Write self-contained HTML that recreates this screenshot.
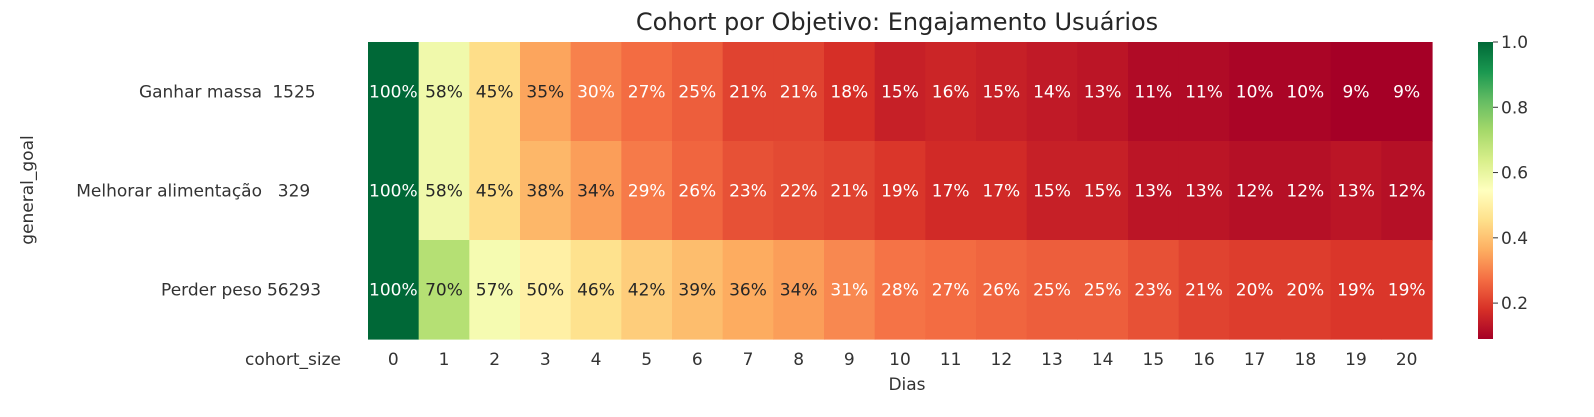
<!DOCTYPE html>
<html><head><meta charset="utf-8"><style>
body{margin:0;background:#fff;}
svg text{font-family:"DejaVu Sans","Liberation Sans",sans-serif;}
</style></head><body>
<svg id="chart" width="1594" height="412">
<text x="897" y="30" font-size="24" fill="#262626" text-anchor="middle">Cohort por Objetivo: Engajamento Usuários</text>
<text x="0" y="0" font-size="17" fill="#333" text-anchor="middle" transform="translate(33,190) rotate(-90)">general_goal</text>
<text x="907" y="390" font-size="17" fill="#333" text-anchor="middle">Dias</text>
<text x="293" y="365" font-size="17" fill="#333" text-anchor="middle">cohort_size</text>
<g id="cells"></g><g id="labels"></g><g id="cbar"></g>
</svg>
<script>
const goals = ["Ganhar massa","Melhorar alimentação","Perder peso"];
const cohortSizes = [1525, 329, 56293];
const days = [0,1,2,3,4,5,6,7,8,9,10,11,12,13,14,15,16,17,18,19,20];
const rowGanhar = [100,58,45,35,30,27,25,21,21,18,15,16,15,14,13,11,11,10,10,9,9];
const rowMelhorar = [100,58,45,38,34,29,26,23,22,21,19,17,17,15,15,13,13,12,12,13,12];
const rowPerder = [100,70,57,50,46,42,39,36,34,31,28,27,26,25,25,23,21,20,20,19,19];
const cbarTicks = [0.2,0.4,0.6,0.8,1.0];

const rows=[rowGanhar,rowMelhorar,rowPerder];
const X0=368,X1=1432,Y0=42,Y1=339;
const cw=(X1-X0)/days.length, rh=(Y1-Y0)/goals.length;
const vmin=Math.min(...rows.flat())/100, vmax=1.0;
const stops=["#a50026","#d73027","#f46d43","#fdae61","#fee08b","#ffffbf","#d9ef8b","#a6d96a","#66bd63","#1a9850","#006837"].map(h=>[parseInt(h.slice(1,3),16),parseInt(h.slice(3,5),16),parseInt(h.slice(5,7),16)]);
function cmap(t){t=Math.max(0,Math.min(1,t));const p=t*10,i=Math.min(9,Math.floor(p)),f=p-i;const a=stops[i],b=stops[i+1];return [0,1,2].map(k=>Math.round(a[k]+(b[k]-a[k])*f));}
function lum(c){const l=c.map(v=>{v/=255;return v<=0.03928?v/12.92:Math.pow((v+0.055)/1.055,2.4)});return 0.2126*l[0]+0.7152*l[1]+0.0722*l[2];}
const ns="http://www.w3.org/2000/svg";
function xS(i){return X0+i*cw;} function yS(j){return Y0+j*rh;}
const cells=document.getElementById('cells'),labels=document.getElementById('labels'),cbar=document.getElementById('cbar');
rows.forEach((row,j)=>{row.forEach((v,i)=>{
 const c=cmap((v/100-vmin)/(vmax-vmin));
 const r=document.createElementNS(ns,'rect');
 r.setAttribute('x',xS(i));r.setAttribute('y',yS(j));r.setAttribute('width',cw+0.6);r.setAttribute('height',rh+0.6);
 r.setAttribute('fill',`rgb(${c})`);
 
 
 cells.appendChild(r);
 const t=document.createElementNS(ns,'text');
 t.setAttribute('x',xS(i)+cw/2);t.setAttribute('y',yS(j)+rh/2+6);t.setAttribute('font-size','17');t.setAttribute('text-anchor','middle');
 t.setAttribute('fill',lum(c)>0.408?'#262626':'#ffffff');t.textContent=v+'%';
 
 
 labels.appendChild(t);
});
 const g=document.createElementNS(ns,'text');
 g.setAttribute('x',262);g.setAttribute('y',yS(j)+rh/2+6);g.setAttribute('font-size','17');g.setAttribute('fill','#333');g.setAttribute('text-anchor','end');g.textContent=goals[j];
 
 
 labels.appendChild(g);
 const s=document.createElementNS(ns,'text');
 s.setAttribute('x',294);s.setAttribute('y',yS(j)+rh/2+6);s.setAttribute('font-size','17');s.setAttribute('fill','#333');s.setAttribute('text-anchor','middle');s.textContent=cohortSizes[j];
 
 
 labels.appendChild(s);
});
days.forEach((d,i)=>{const t=document.createElementNS(ns,'text');
 t.setAttribute('x',xS(i)+cw/2);t.setAttribute('y',365);t.setAttribute('font-size','17');t.setAttribute('fill','#333');t.setAttribute('text-anchor','middle');t.textContent=d;
 
 
 labels.appendChild(t);});
const CX=1478,CW=15;
const defs=document.createElementNS(ns,'defs');const lg=document.createElementNS(ns,'linearGradient');
lg.setAttribute('id','cg');lg.setAttribute('x1','0');lg.setAttribute('y1','1');lg.setAttribute('x2','0');lg.setAttribute('y2','0');
for(let k=0;k<=20;k++){const st=document.createElementNS(ns,'stop');st.setAttribute('offset',k/20);st.setAttribute('stop-color',`rgb(${cmap(k/20)})`);lg.appendChild(st);}
defs.appendChild(lg);cbar.appendChild(defs);
const cr=document.createElementNS(ns,'rect');cr.setAttribute('x',CX);cr.setAttribute('y',Y0);cr.setAttribute('width',CW);cr.setAttribute('height',Y1-Y0);cr.setAttribute('fill','url(#cg)');


cbar.appendChild(cr);
function cy(v){return Y1-(v-vmin)/(vmax-vmin)*(Y1-Y0);}
cbarTicks.forEach(v=>{const y=cy(v);
 const l=document.createElementNS(ns,'line');l.setAttribute('x1',CX+CW);l.setAttribute('x2',CX+CW+5);l.setAttribute('y1',y);l.setAttribute('y2',y);l.setAttribute('stroke','#333');
 
 
 cbar.appendChild(l);
 const t=document.createElementNS(ns,'text');t.setAttribute('x',CX+CW+8);t.setAttribute('y',y+6);t.setAttribute('font-size','17');t.setAttribute('fill','#333');t.textContent=v.toFixed(1);
 
 
 cbar.appendChild(t);});
</script>
</body></html>
